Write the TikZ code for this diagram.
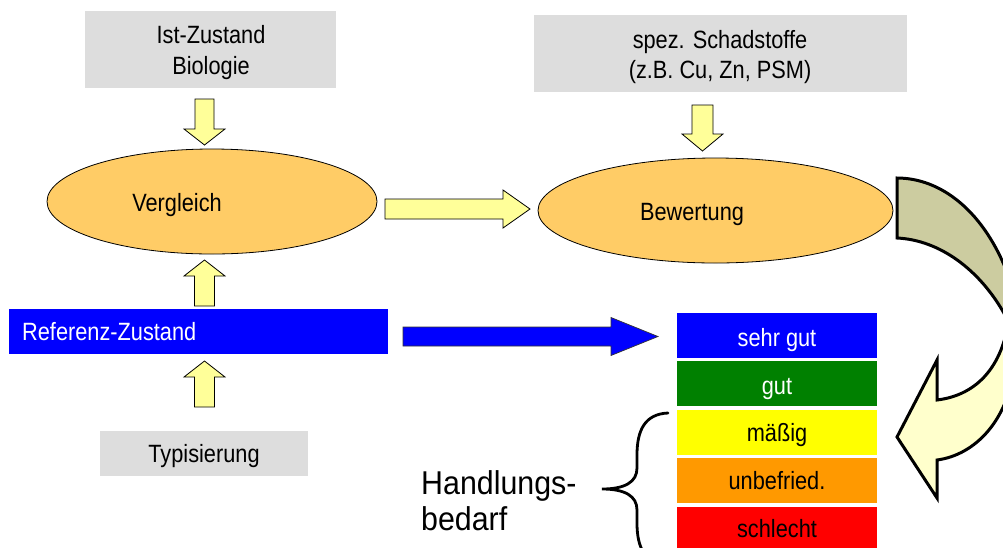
\documentclass[tikz,border=0pt]{standalone}
\usepackage{fontspec}
\setmainfont{Liberation Sans}[FakeStretch=0.87]
\newfontfamily\bigfont{Liberation Sans}[FakeStretch=0.92]
\usetikzlibrary{shapes.geometric}

\definecolor{boxgray}{HTML}{DDDDDD}
\definecolor{ovalfill}{HTML}{FFCC66}
\definecolor{arrowfill}{HTML}{FFFF99}
\definecolor{backband}{HTML}{CCCCA0}
\definecolor{frontband}{HTML}{FFFFCC}
\definecolor{rbblue}{HTML}{0000FF}
\definecolor{rbgreen}{HTML}{008000}
\definecolor{rbyellow}{HTML}{FFFF00}
\definecolor{rborange}{HTML}{FF9900}
\definecolor{rbred}{HTML}{FF0000}

% block arrow along y: centre x, shaft half width, head half width, tail y, head base y, tip y
\newcommand\blockvert[6]{%
  \draw[blockarrow] (#1-#2,#4) -- (#1+#2,#4) -- (#1+#2,#5) -- (#1+#3,#5) -- (#1,#6)
    -- (#1-#3,#5) -- (#1-#2,#5) -- cycle;}
% block arrow along x: centre y, shaft half height, head half height, tail x, head base x, tip x
\newcommand\blockhoriz[7]{%
  \draw[#7] (#4,#1-#2) -- (#5,#1-#2) -- (#5,#1-#3) -- (#6,#1) -- (#5,#1+#3)
    -- (#5,#1+#2) -- (#4,#1+#2) -- cycle;}

\tikzset{
  lbl/.style={font=\fontsize{25}{29}\selectfont, inner sep=0pt, anchor=base},
  plainbox/.style={draw=none, inner sep=0pt, anchor=north west},
  oval/.style={ellipse, draw=black, line width=0.8pt, fill=ovalfill, inner sep=0pt},
  blockarrow/.style={draw=black, line width=0.8pt, fill=arrowfill, line join=miter},
  bluearrow/.style={draw=black!80, line width=0.7pt, fill=rbblue, line join=miter},
  rating/.style={plainbox, minimum width=200pt, minimum height=45pt},
  curveback/.style={draw=black, line width=3pt, fill=backband, line join=miter},
  curvefront/.style={draw=black, line width=3pt, fill=frontband, line join=miter},
}

\begin{document}
\begin{tikzpicture}[x=1pt, y=-1pt]
\useasboundingbox (0,0) rectangle (1003,547);
\clip (0,0) rectangle (1003,547);

% input boxes
\node[plainbox, fill=boxgray, minimum width=251pt, minimum height=77pt] (ist) at (85,11) {};
\node[lbl] (istA) at (211,43) {Ist-Zustand};
\node[lbl] (istB) at (211,74) {Biologie};

\node[plainbox, fill=boxgray, minimum width=373pt, minimum height=77pt] (schad) at (534,15) {};
\node[lbl] (schadA) at (720,48) {spez. Schadstoffe};
\node[lbl] (schadB) at (720,78) {(z.B. Cu, Zn, PSM)};

\node[plainbox, fill=boxgray, minimum width=208pt, minimum height=45pt] (typ) at (100,431) {};
\node[lbl] (typT) at (204,462) {Typisierung};

\node[plainbox, fill=rbblue, minimum width=379pt, minimum height=45pt] (ref) at (9,309) {};
\node[lbl, anchor=base west, text=white] (refT) at (22,340) {Referenz-Zustand};

% process ovals
\node[oval, minimum width=330pt, minimum height=105pt] (vgl) at (212,201.5) {};
\node[lbl] (vglT) at (177,211) {Vergleich};
\node[oval, minimum width=355pt, minimum height=105pt] (bew) at (715.5,210.5) {};
\node[lbl] (bewT) at (692,220) {Bewertung};

% block arrows
\blockvert{204.5}{9.5}{20.5}{99}{129}{145}
\blockvert{702.5}{10.5}{20.5}{105}{134}{151}
\blockvert{204.5}{10}{20.5}{306}{276}{260}
\blockvert{204.5}{10}{20.5}{407}{377}{361}
\blockhoriz{209}{10}{19}{385}{503}{530}{blockarrow}
\blockhoriz{336.5}{9.5}{19}{403}{611}{658}{bluearrow}

% rating scale
\node[rating, fill=rbblue]   (r1) at (677,313) {};
\node[rating, fill=rbgreen]  (r2) at (677,361) {};
\node[rating, fill=rbyellow] (r3) at (677,410) {};
\node[rating, fill=rborange] (r4) at (677,458) {};
\node[rating, fill=rbred]    (r5) at (677,507) {};
\node[lbl, text=white] (r1T) at (777,346) {sehr gut};
\node[lbl, text=white] (r2T) at (777,394.5) {gut};
\node[lbl] (r3T) at (777,441.5) {mäßig};
\node[lbl] (r4T) at (777,489.5) {unbefried.};
\node[lbl] (r5T) at (777,537.5) {schlecht};

% brace and label
\coordinate (bTop) at (668,413);
\coordinate (bTip) at (602,489);
\coordinate (bBot) at (668,565);
\draw[line width=2.8pt, line cap=round]
  (bTop) .. controls (645,414) and (637,430) .. (637,455) -- (637,468)
  .. controls (637,482) and (625,489) .. (bTip)
  .. controls (625,489) and (637,496) .. (637,510) -- (637,523)
  .. controls (637,548) and (645,564) .. (bBot);
\node[font=\bigfont\fontsize{33}{37}\selectfont, inner sep=0pt, anchor=base west] (hb1) at (421,494) {Handlungs-};
\node[font=\bigfont\fontsize{33}{37}\selectfont, inner sep=0pt, anchor=base west] (hb2) at (421,530) {bedarf};

% curved arrow from the assessment down to the scale
\filldraw[curveback] (897,178) .. controls (940,178) and (985,210) .. (1010,280)
  -- (1040,300) -- (1005,315) .. controls (980,270) and (940,240) .. (897,238) -- cycle;
\filldraw[curvefront] (937,400) -- (937,360) -- (897,437) -- (937,498) -- (937,460)
  .. controls (975,455) and (1010,420) .. (1015,360) -- (1040,330) -- (1010,310)
  .. controls (1005,365) and (978,395) .. (937,400) -- cycle;
\end{tikzpicture}
\end{document}
